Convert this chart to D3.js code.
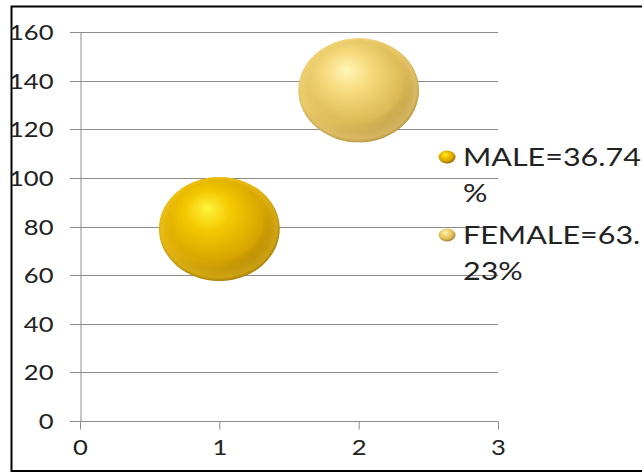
<!DOCTYPE html>
<html>
<head>
<meta charset="utf-8">
<script src="https://cdn.jsdelivr.net/npm/d3@7"></script>
<style>
  html, body { margin: 0; padding: 0; background: #fff; }
  svg { display: block; }
  text { font-family: Lato, "Open Sans", sans-serif; fill: #222; }
</style>
</head>
<body>
<svg id="chart" width="642" height="472"></svg>
<script>
// Gender split plotted as bubbles
const series = ["MALE", "FEMALE"];
const xValues = [1, 2];
const yValues = [79, 136];
const bubbleSizes = [1, 1];
const legendLabels = [["MALE=36.74", "%"], ["FEMALE=63.", "23%"]];
const xTicks = [0, 1, 2, 3];
const yTicks = [0, 20, 40, 60, 80, 100, 120, 140, 160];

// sphere shading: highlight, body, rim, shadow
const palettes = [
  { hi: "#fff43c", body: "#f4c800", rim: "#d6a400", dark: "#7a5600", glow: "#f5c820" },
  { hi: "#fff6b8", body: "#f6da7c", rim: "#dcba55", dark: "#94722a", glow: "#f6d87c" }
];

const svg = d3.select("#chart");
const STRETCH = 1.22;   // horizontal widening of all labels

const x = d3.scaleLinear().domain([0, 3]).range([80, 498]);
const y = d3.scaleLinear().domain([0, 160]).range([421, 32]);
const r = d3.scaleSqrt().domain([0, 1]).range([0, 52]);

// outer frame
svg.append("rect")
  .attr("x", 11.5).attr("y", 6.5)
  .attr("width", 660).attr("height", 464.5)
  .attr("fill", "none").attr("stroke", "#000").attr("stroke-width", 2);

const defs = svg.append("defs");
palettes.forEach((p, i) => {
  const g = defs.append("radialGradient")
    .attr("id", "ball" + i)
    .attr("cx", "0.43").attr("cy", "0.4").attr("r", "0.64")
    .attr("fx", "0.4").attr("fy", "0.3");
  g.append("stop").attr("offset", "0").attr("stop-color", p.hi);
  g.append("stop").attr("offset", "0.3").attr("stop-color", p.body);
  g.append("stop").attr("offset", "0.7").attr("stop-color", p.rim);
  g.append("stop").attr("offset", "1").attr("stop-color", p.dark);

  // soft reflected light along the lower edge
  const b = defs.append("radialGradient")
    .attr("id", "glow" + i)
    .attr("cx", "0.5").attr("cy", "0.5").attr("r", "0.5")
    .attr("fx", "0.45").attr("fy", "0.15");
  b.append("stop").attr("offset", "0.78").attr("stop-color", p.glow).attr("stop-opacity", 0);
  b.append("stop").attr("offset", "0.96").attr("stop-color", p.glow).attr("stop-opacity", 0.6);
  b.append("stop").attr("offset", "1").attr("stop-color", p.glow).attr("stop-opacity", 0.3);
});

// horizontal gridlines
svg.append("g").selectAll("line").data(yTicks).join("line")
  .attr("x1", 70).attr("x2", x(3))
  .attr("y1", d => Math.round(y(d)) + 0.5).attr("y2", d => Math.round(y(d)) + 0.5)
  .attr("stroke", "#8c8c8c").attr("stroke-width", 1);

// y axis
const yAxis = svg.append("g")
  .attr("transform", `translate(${x(0) + 0.5},0)`)
  .call(d3.axisLeft(y).tickValues(yTicks).tickSize(0).tickPadding(27));
yAxis.select(".domain").attr("stroke", "#8c8c8c");
yAxis.selectAll(".tick text")
  .style("font-size", "21px").attr("fill", "#222").attr("font-family", "Lato, sans-serif")
  .attr("dy", "0.36em")
  .attr("transform", function () {
    const tx = +d3.select(this).attr("x");
    return `translate(${tx},0) scale(${STRETCH},1)`;
  })
  .attr("x", 0);

// x axis
const xAxis = svg.append("g")
  .attr("transform", `translate(0,${Math.round(y(0)) + 0.5})`)
  .call(d3.axisBottom(x).tickValues(xTicks).tickSize(8).tickPadding(11)
    .tickFormat(d3.format("d")));
xAxis.select(".domain").remove();
xAxis.selectAll("line").attr("stroke", "#8c8c8c");
xAxis.selectAll(".tick text")
  .style("font-size", "21px").attr("fill", "#222").attr("font-family", "Lato, sans-serif")
  .attr("transform", `scale(${STRETCH},1)`);
svg.append("line")
  .attr("x1", x(0)).attr("x2", x(3))
  .attr("y1", Math.round(y(0)) + 0.5).attr("y2", Math.round(y(0)) + 0.5)
  .attr("stroke", "#8c8c8c");

// bubbles
const data = series.map((s, i) => ({ s, x: xValues[i], y: yValues[i], size: bubbleSizes[i], i }));
const bubbles = svg.append("g").selectAll("g").data(data).join("g")
  .attr("transform", d => `translate(${x(d.x)},${y(d.y)})`);
bubbles.append("ellipse")
  .attr("rx", d => r(d.size) * 1.16).attr("ry", d => r(d.size))
  .attr("fill", d => `url(#ball${d.i})`);
bubbles.append("ellipse")
  .attr("rx", d => r(d.size) * 1.16).attr("ry", d => r(d.size))
  .attr("fill", d => `url(#glow${d.i})`);

// legend
const legend = svg.append("g");
const legendRows = [157, 235];
legendLabels.forEach((lines, i) => {
  const gy = legendRows[i];
  legend.append("ellipse").attr("cx", 447).attr("cy", gy)
    .attr("rx", 8.5).attr("ry", 6.5).attr("fill", `url(#ball${i})`);
  lines.forEach((t, k) => {
    legend.append("text")
      .attr("transform", `translate(463,${gy + 9 + k * 36}) scale(${STRETCH},1)`)
      .style("font-size", "25px")
      .text(t);
  });
});
</script>
</body>
</html>
